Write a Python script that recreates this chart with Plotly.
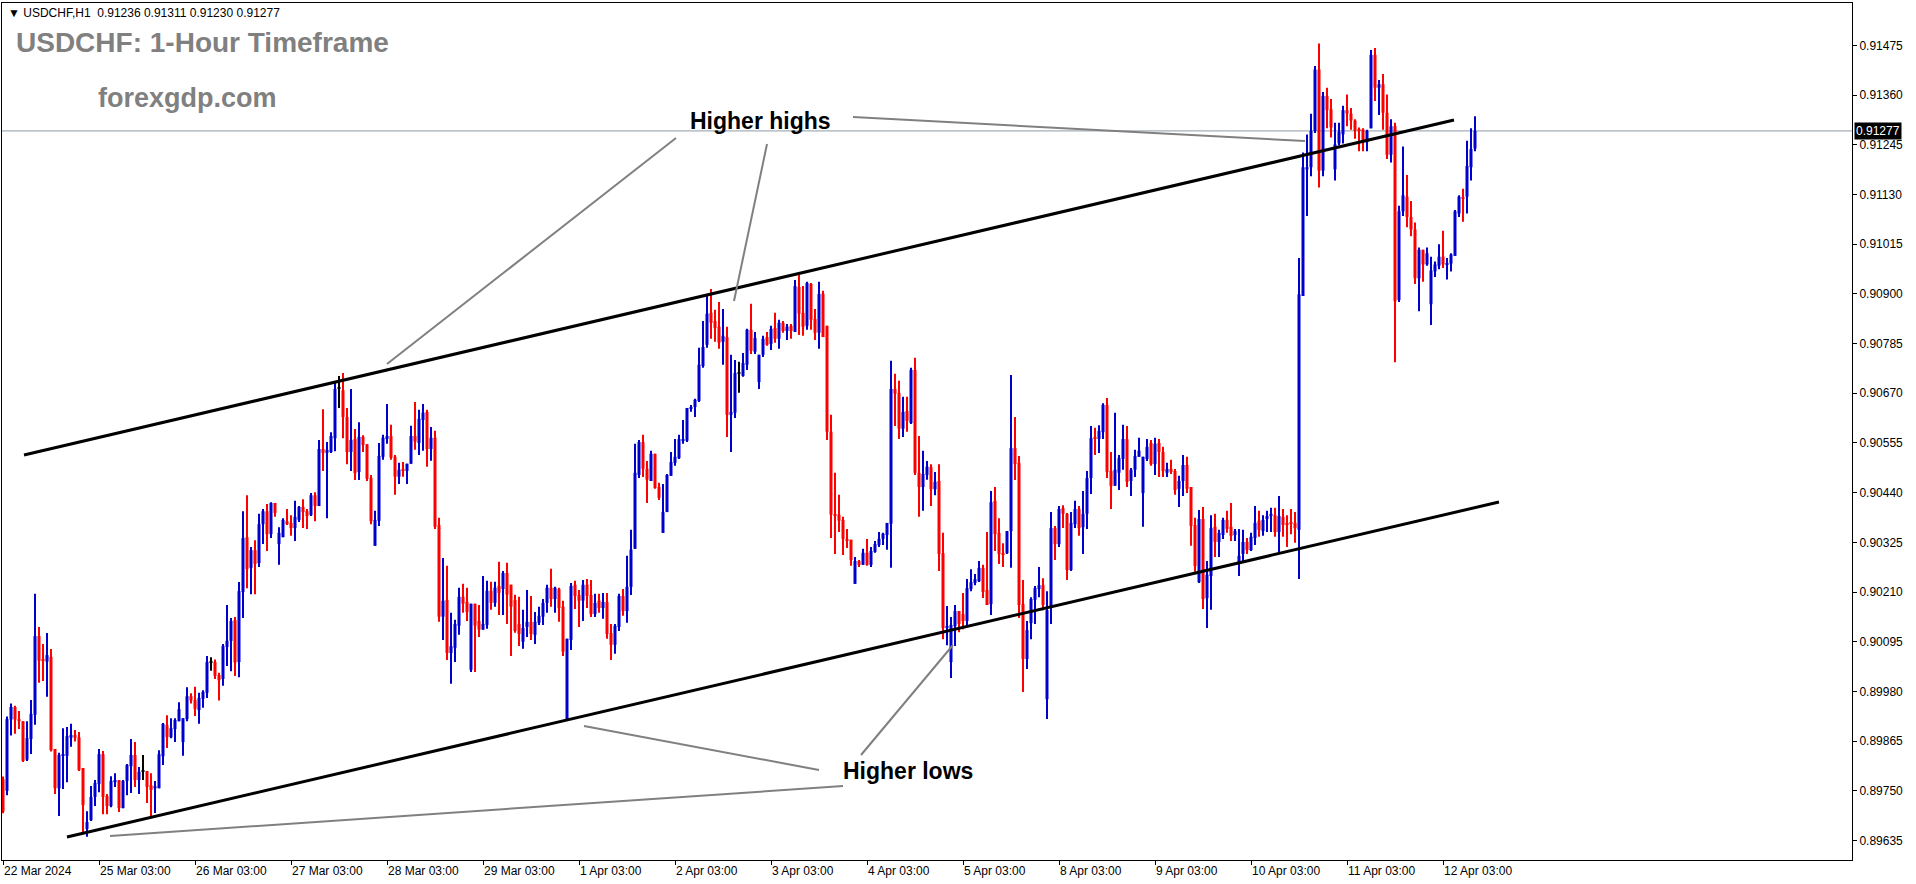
import plotly.graph_objects as go
from datetime import datetime, timedelta

# ---------------- data (USDCHF H1) ----------------
opens = [
0.89777,0.89750,0.89915,0.89944,0.89916,0.89911,0.89822,0.89870,0.89926,0.90108,
0.90055,0.90049,0.90060,0.89847,0.89756,0.89831,0.89831,0.89873,0.89879,0.89874,
0.89803,0.89662,0.89682,0.89736,0.89766,0.89835,0.89738,0.89715,0.89770,0.89775,
0.89710,0.89773,0.89807,0.89833,0.89775,0.89794,0.89796,0.89763,0.89756,0.89756,
0.89830,0.89902,0.89874,0.89893,0.89911,0.89863,0.89916,0.89969,0.89960,0.89937,
0.89963,0.89977,0.90048,0.90048,0.90018,0.90009,0.90083,0.90097,0.90145,0.90048,
0.90210,0.90337,0.90266,0.90307,0.90277,0.90367,0.90397,0.90344,0.90416,0.90321,
0.90337,0.90374,0.90370,0.90358,0.90377,0.90407,0.90397,0.90388,0.90434,0.90409,
0.90541,0.90532,0.90534,0.90566,0.90680,0.90677,0.90615,0.90534,0.90564,0.90488,
0.90569,0.90552,0.90474,0.90317,0.90375,0.90523,0.90564,0.90571,0.90523,0.90477,
0.90493,0.90490,0.90507,0.90571,0.90555,0.90608,0.90627,0.90541,0.90567,0.90365,
0.90153,0.90192,0.90069,0.90081,0.90132,0.90199,0.90187,0.90030,0.90183,0.90143,
0.90123,0.90134,0.90213,0.90185,0.90224,0.90217,0.90254,0.90227,0.90192,0.90136,
0.90095,0.90129,0.90141,0.90111,0.90139,0.90153,0.90185,0.90220,0.90194,0.90217,
0.90176,0.89916,0.90099,0.90227,0.90203,0.90190,0.90227,0.90203,0.90159,0.90190,
0.90173,0.90187,0.90115,0.90088,0.90129,0.90201,0.90166,0.90222,0.90310,0.90481,
0.90557,0.90495,0.90467,0.90530,0.90453,0.90347,0.90395,0.90479,0.90509,0.90520,
0.90560,0.90560,0.90634,0.90638,0.90652,0.90733,0.90782,0.90856,0.90837,0.90824,
0.90789,0.90800,0.90620,0.90625,0.90715,0.90710,0.90736,0.90817,0.90766,0.90696,
0.90759,0.90800,0.90784,0.90821,0.90796,0.90833,0.90814,0.90826,0.90812,0.90916,
0.90856,0.90826,0.90923,0.90842,0.90810,0.90900,0.90826,0.90581,0.90389,0.90389,
0.90377,0.90333,0.90331,0.90229,0.90282,0.90273,0.90301,0.90273,0.90303,0.90319,
0.90333,0.90342,0.90368,0.90680,0.90671,0.90588,0.90629,0.90601,0.90724,0.90486,
0.90453,0.90481,0.90499,0.90448,0.90467,0.90300,0.90127,0.90048,0.90131,0.90166,
0.90159,0.90143,0.90217,0.90231,0.90235,0.90266,0.90215,0.90182,0.90421,0.90347,
0.90300,0.90300,0.90351,0.90543,0.90509,0.90182,0.90055,0.90138,0.90192,0.90217,
0.90226,0.89962,0.90173,0.90358,0.90321,0.90404,0.90391,0.90261,0.90367,0.90402,
0.90360,0.90391,0.90474,0.90569,0.90564,0.90580,0.90643,0.90490,0.90456,0.90486,
0.90518,0.90564,0.90467,0.90493,0.90523,0.90439,0.90518,0.90555,0.90506,0.90555,
0.90534,0.90486,0.90495,0.90490,0.90449,0.90467,0.90504,0.90453,0.90365,0.90233,
0.90379,0.90196,0.90247,0.90361,0.90326,0.90342,0.90377,0.90361,0.90342,0.90275,
0.90298,0.90326,0.90307,0.90335,0.90375,0.90351,0.90379,0.90386,0.90388,0.90349,
0.90384,0.90370,0.90372,0.90370,0.90354,0.90895,0.91188,0.91193,0.91277,0.91419,
0.91185,0.91358,0.91327,0.91188,0.91248,0.91269,0.91325,0.91317,0.91301,0.91280,
0.91280,0.91251,0.91283,0.91453,0.91377,0.91385,0.91319,0.91222,0.91288,0.90886,
0.91091,0.91125,0.91078,0.91049,0.90936,0.91002,0.90968,0.90876,0.90952,0.90965,
0.90986,0.90968,0.90970,0.90988,0.91086,0.91122,0.91125,0.91193,0.91236]

highs = [
0.89783,0.89922,0.89952,0.89947,0.89935,0.89911,0.89911,0.89960,0.90206,0.90129,
0.90090,0.90115,0.90078,0.89847,0.89838,0.89895,0.89898,0.89905,0.89891,0.89886,
0.89803,0.89703,0.89761,0.89775,0.89847,0.89842,0.89743,0.89784,0.89791,0.89775,
0.89775,0.89812,0.89870,0.89863,0.89805,0.89833,0.89796,0.89791,0.89773,0.89844,
0.89907,0.89925,0.89918,0.89918,0.89955,0.89918,0.89990,0.89976,0.89991,0.89977,
0.89983,0.90062,0.90059,0.90054,0.90023,0.90090,0.90180,0.90150,0.90152,0.90233,
0.90397,0.90434,0.90314,0.90330,0.90391,0.90402,0.90414,0.90418,0.90416,0.90360,
0.90381,0.90402,0.90388,0.90421,0.90409,0.90425,0.90402,0.90439,0.90441,0.90562,
0.90633,0.90557,0.90580,0.90694,0.90710,0.90717,0.90636,0.90680,0.90587,0.90603,
0.90573,0.90552,0.90481,0.90398,0.90555,0.90574,0.90645,0.90597,0.90527,0.90509,
0.90511,0.90507,0.90595,0.90650,0.90632,0.90645,0.90632,0.90592,0.90583,0.90382,
0.90289,0.90271,0.90162,0.90146,0.90220,0.90229,0.90220,0.90183,0.90183,0.90180,
0.90247,0.90236,0.90234,0.90234,0.90280,0.90259,0.90278,0.90227,0.90204,0.90199,
0.90169,0.90215,0.90201,0.90164,0.90176,0.90194,0.90227,0.90264,0.90222,0.90220,
0.90190,0.90102,0.90231,0.90236,0.90215,0.90238,0.90240,0.90238,0.90206,0.90206,
0.90208,0.90208,0.90136,0.90136,0.90206,0.90217,0.90294,0.90354,0.90553,0.90562,
0.90574,0.90513,0.90537,0.90530,0.90463,0.90460,0.90483,0.90534,0.90564,0.90574,
0.90608,0.90636,0.90643,0.90657,0.90775,0.90837,0.90898,0.90911,0.90863,0.90881,
0.90865,0.90824,0.90759,0.90747,0.90743,0.90763,0.90819,0.90877,0.90812,0.90759,
0.90803,0.90812,0.90826,0.90856,0.90840,0.90837,0.90830,0.90830,0.90932,0.90946,
0.90918,0.90928,0.90925,0.90865,0.90928,0.90907,0.90826,0.90620,0.90486,0.90435,
0.90384,0.90356,0.90331,0.90291,0.90284,0.90310,0.90333,0.90314,0.90328,0.90349,
0.90347,0.90370,0.90745,0.90715,0.90699,0.90662,0.90662,0.90729,0.90752,0.90571,
0.90537,0.90513,0.90506,0.90488,0.90506,0.90347,0.90178,0.90152,0.90180,0.90166,
0.90208,0.90240,0.90263,0.90252,0.90282,0.90273,0.90349,0.90444,0.90453,0.90381,
0.90323,0.90351,0.90712,0.90615,0.90525,0.90238,0.90143,0.90198,0.90224,0.90268,
0.90242,0.90212,0.90395,0.90363,0.90409,0.90411,0.90393,0.90395,0.90421,0.90409,
0.90444,0.90490,0.90594,0.90590,0.90596,0.90647,0.90659,0.90534,0.90625,0.90527,
0.90597,0.90594,0.90497,0.90539,0.90567,0.90523,0.90564,0.90562,0.90567,0.90564,
0.90546,0.90509,0.90516,0.90495,0.90479,0.90527,0.90523,0.90453,0.90382,0.90400,
0.90407,0.90282,0.90388,0.90391,0.90354,0.90382,0.90398,0.90416,0.90356,0.90356,
0.90354,0.90335,0.90347,0.90409,0.90398,0.90388,0.90398,0.90405,0.90405,0.90432,
0.90402,0.90388,0.90402,0.90395,0.90983,0.91227,0.91269,0.91317,0.91427,0.91479,
0.91367,0.91377,0.91351,0.91296,0.91296,0.91335,0.91361,0.91330,0.91304,0.91285,
0.91283,0.91280,0.91464,0.91469,0.91395,0.91409,0.91361,0.91304,0.91296,0.91104,
0.91241,0.91175,0.91115,0.91065,0.91007,0.91002,0.91007,0.90986,0.90975,0.91015,
0.91046,0.90983,0.90994,0.91094,0.91128,0.91143,0.91254,0.91283,0.91311]

lows = [
0.89698,0.89740,0.89878,0.89882,0.89893,0.89817,0.89819,0.89835,0.89903,0.90000,
0.90004,0.89968,0.89841,0.89743,0.89692,0.89754,0.89770,0.89852,0.89864,0.89796,
0.89655,0.89644,0.89680,0.89715,0.89747,0.89696,0.89696,0.89712,0.89759,0.89701,
0.89710,0.89740,0.89745,0.89759,0.89743,0.89775,0.89722,0.89687,0.89699,0.89756,
0.89810,0.89849,0.89872,0.89863,0.89911,0.89831,0.89911,0.89952,0.89923,0.89905,
0.89942,0.89965,0.90028,0.90009,0.89959,0.89993,0.90039,0.90027,0.90016,0.90013,
0.90150,0.90219,0.90205,0.90205,0.90268,0.90321,0.90305,0.90335,0.90384,0.90273,
0.90337,0.90365,0.90340,0.90328,0.90372,0.90358,0.90356,0.90386,0.90374,0.90409,
0.90490,0.90381,0.90532,0.90536,0.90636,0.90566,0.90506,0.90490,0.90469,0.90469,
0.90534,0.90467,0.90367,0.90317,0.90363,0.90516,0.90553,0.90516,0.90435,0.90460,
0.90477,0.90460,0.90507,0.90539,0.90527,0.90537,0.90500,0.90514,0.90356,0.90141,
0.90099,0.90053,0.89998,0.90048,0.90111,0.90162,0.90143,0.90025,0.90025,0.90106,
0.90123,0.90125,0.90169,0.90176,0.90157,0.90157,0.90136,0.90062,0.90116,0.90085,
0.90079,0.90106,0.90099,0.90090,0.90134,0.90134,0.90162,0.90176,0.90162,0.90141,
0.90062,0.89914,0.90076,0.90171,0.90129,0.90143,0.90173,0.90152,0.90152,0.90162,
0.90148,0.90102,0.90053,0.90067,0.90120,0.90155,0.90139,0.90203,0.90310,0.90474,
0.90476,0.90416,0.90467,0.90449,0.90423,0.90347,0.90395,0.90479,0.90502,0.90518,
0.90553,0.90557,0.90627,0.90615,0.90650,0.90729,0.90775,0.90796,0.90789,0.90773,
0.90736,0.90569,0.90534,0.90613,0.90671,0.90708,0.90724,0.90761,0.90761,0.90680,
0.90754,0.90780,0.90770,0.90787,0.90773,0.90810,0.90793,0.90796,0.90812,0.90805,
0.90803,0.90817,0.90817,0.90793,0.90773,0.90800,0.90562,0.90335,0.90298,0.90349,
0.90296,0.90312,0.90271,0.90229,0.90268,0.90273,0.90271,0.90268,0.90301,0.90314,
0.90319,0.90308,0.90266,0.90594,0.90564,0.90569,0.90581,0.90599,0.90481,0.90384,
0.90398,0.90470,0.90409,0.90434,0.90259,0.90101,0.90087,0.90011,0.90085,0.90117,
0.90124,0.90129,0.90212,0.90226,0.90233,0.90196,0.90180,0.90157,0.90305,0.90275,
0.90268,0.90298,0.90266,0.90469,0.90150,0.89979,0.90032,0.90101,0.90136,0.90198,
0.90168,0.89916,0.90136,0.90284,0.90314,0.90358,0.90238,0.90259,0.90358,0.90340,
0.90298,0.90356,0.90437,0.90527,0.90532,0.90564,0.90474,0.90402,0.90456,0.90446,
0.90493,0.90453,0.90432,0.90476,0.90523,0.90361,0.90513,0.90502,0.90481,0.90476,
0.90476,0.90476,0.90483,0.90435,0.90407,0.90432,0.90439,0.90317,0.90257,0.90231,
0.90171,0.90127,0.90169,0.90291,0.90291,0.90333,0.90347,0.90328,0.90328,0.90247,
0.90277,0.90298,0.90305,0.90319,0.90338,0.90340,0.90349,0.90349,0.90338,0.90298,
0.90338,0.90314,0.90344,0.90324,0.90240,0.90895,0.91080,0.91172,0.91272,0.91146,
0.91172,0.91283,0.91262,0.91162,0.91243,0.91248,0.91288,0.91280,0.91259,0.91230,
0.91230,0.91230,0.91283,0.91346,0.91314,0.91280,0.91212,0.91204,0.90742,0.90881,
0.91080,0.91054,0.91033,0.90923,0.90860,0.90928,0.90965,0.90828,0.90939,0.90957,
0.90960,0.90933,0.90952,0.90988,0.91078,0.91067,0.91086,0.91162,0.91230]

closes = [
0.89702,0.89916,0.89944,0.89915,0.89911,0.89819,0.89872,0.89928,0.90108,0.90051,
0.90051,0.90064,0.89844,0.89756,0.89833,0.89835,0.89877,0.89879,0.89873,0.89798,
0.89717,0.89678,0.89736,0.89768,0.89835,0.89736,0.89715,0.89773,0.89775,0.89710,
0.89773,0.89810,0.89833,0.89775,0.89794,0.89794,0.89759,0.89752,0.89761,0.89835,
0.89905,0.89874,0.89895,0.89914,0.89939,0.89918,0.89969,0.89959,0.89940,0.89965,
0.89979,0.90048,0.90048,0.90016,0.90006,0.90085,0.90097,0.90143,0.90047,0.90212,
0.90335,0.90263,0.90307,0.90275,0.90367,0.90397,0.90344,0.90416,0.90393,0.90347,
0.90377,0.90367,0.90358,0.90384,0.90407,0.90395,0.90386,0.90434,0.90409,0.90541,
0.90532,0.90539,0.90571,0.90680,0.90680,0.90615,0.90534,0.90562,0.90485,0.90569,
0.90550,0.90472,0.90374,0.90377,0.90525,0.90567,0.90571,0.90521,0.90477,0.90493,
0.90491,0.90507,0.90571,0.90558,0.90611,0.90625,0.90541,0.90567,0.90361,0.90153,
0.90190,0.90069,0.90085,0.90136,0.90199,0.90183,0.90164,0.90183,0.90132,0.90123,
0.90136,0.90213,0.90185,0.90220,0.90208,0.90254,0.90204,0.90176,0.90120,0.90113,
0.90127,0.90141,0.90113,0.90141,0.90155,0.90185,0.90220,0.90194,0.90220,0.90173,
0.90072,0.90102,0.90224,0.90201,0.90190,0.90227,0.90201,0.90159,0.90185,0.90173,
0.90187,0.90113,0.90088,0.90132,0.90201,0.90166,0.90222,0.90308,0.90486,0.90557,
0.90495,0.90470,0.90530,0.90451,0.90428,0.90395,0.90481,0.90511,0.90523,0.90564,
0.90564,0.90636,0.90636,0.90655,0.90736,0.90777,0.90854,0.90833,0.90821,0.90787,
0.90803,0.90620,0.90627,0.90717,0.90715,0.90740,0.90817,0.90768,0.90798,0.90759,
0.90796,0.90782,0.90819,0.90796,0.90833,0.90814,0.90824,0.90814,0.90918,0.90854,
0.90824,0.90925,0.90840,0.90810,0.90900,0.90800,0.90581,0.90389,0.90386,0.90375,
0.90333,0.90328,0.90284,0.90282,0.90273,0.90301,0.90273,0.90305,0.90321,0.90333,
0.90345,0.90370,0.90680,0.90669,0.90588,0.90627,0.90606,0.90724,0.90486,0.90453,
0.90483,0.90500,0.90448,0.90465,0.90298,0.90127,0.90131,0.90134,0.90166,0.90136,
0.90143,0.90219,0.90233,0.90240,0.90266,0.90210,0.90180,0.90418,0.90344,0.90298,
0.90298,0.90351,0.90543,0.90506,0.90180,0.90055,0.90122,0.90194,0.90219,0.90226,
0.90180,0.90168,0.90358,0.90321,0.90402,0.90391,0.90261,0.90370,0.90402,0.90358,
0.90391,0.90474,0.90566,0.90564,0.90583,0.90643,0.90488,0.90455,0.90493,0.90520,
0.90564,0.90465,0.90493,0.90525,0.90537,0.90523,0.90546,0.90506,0.90553,0.90534,
0.90490,0.90495,0.90488,0.90446,0.90467,0.90504,0.90449,0.90363,0.90270,0.90379,
0.90194,0.90250,0.90358,0.90326,0.90347,0.90377,0.90356,0.90340,0.90351,0.90294,
0.90326,0.90307,0.90338,0.90370,0.90354,0.90377,0.90386,0.90391,0.90349,0.90386,
0.90365,0.90365,0.90368,0.90358,0.90899,0.91193,0.91193,0.91277,0.91419,0.91185,
0.91358,0.91325,0.91285,0.91246,0.91275,0.91325,0.91317,0.91301,0.91277,0.91277,
0.91251,0.91277,0.91453,0.91377,0.91385,0.91319,0.91222,0.91288,0.90883,0.91091,
0.91128,0.91078,0.91049,0.90936,0.91002,0.90968,0.90994,0.90954,0.90968,0.90986,
0.90968,0.90970,0.90991,0.91091,0.91125,0.91120,0.91196,0.91235,0.91277]

x_tick_labels = ["22 Mar 2024", "25 Mar 03:00", "26 Mar 03:00", "27 Mar 03:00",
                 "28 Mar 03:00", "29 Mar 03:00", "1 Apr 03:00", "2 Apr 03:00",
                 "3 Apr 03:00", "4 Apr 03:00", "5 Apr 03:00", "8 Apr 03:00",
                 "9 Apr 03:00", "10 Apr 03:00", "11 Apr 03:00", "12 Apr 03:00"]
x_tick_times = ["2024-03-22 03:00", "2024-03-25 03:00", "2024-03-26 03:00", "2024-03-27 03:00",
                "2024-03-28 03:00", "2024-03-29 03:00", "2024-04-01 03:00", "2024-04-02 03:00",
                "2024-04-03 03:00", "2024-04-04 03:00", "2024-04-05 03:00", "2024-04-08 03:00",
                "2024-04-09 03:00", "2024-04-10 03:00", "2024-04-11 03:00", "2024-04-12 03:00"]
y_tick_values = [0.89635, 0.89750, 0.89865, 0.89980, 0.90095, 0.90210, 0.90325, 0.90440,
                 0.90555, 0.90670, 0.90785, 0.90900, 0.91015, 0.91130, 0.91245, 0.91360, 0.91475]
last_price = 0.91277

# ---------------- bar time axis (trading hours only) ----------------
times = []
t = datetime(2024, 3, 22, 3)
end = datetime(2024, 4, 12, 11)
while t <= end:
    if t.weekday() < 5:
        times.append(t)
    t += timedelta(hours=1)
idx = list(range(len(times)))
time_index = {tt.strftime("%Y-%m-%d %H:%M"): i for i, tt in enumerate(times)}
tickvals = [time_index[s] for s in x_tick_times]

BLUE = "#0000CD"
RED = "#FF0000"
colors = []
for o, c in zip(opens, closes):
    colors.append(BLUE if c > o else (RED if c < o else "#000000"))

min_body = 0.000025
body_base = [min(o, c) for o, c in zip(opens, closes)]
body_h = [max(abs(c - o), min_body) for o, c in zip(opens, closes)]
wick_base = [min(l, o, c) for l, o, c in zip(lows, opens, closes)]
wick_h = [max(h, o, c) - b for h, o, c, b in zip(highs, opens, closes, wick_base)]

fig = go.Figure()
fig.add_trace(go.Bar(x=idx, y=wick_h, base=wick_base, width=0.25,
                     marker=dict(color=colors, line=dict(width=0)), hoverinfo="skip"))
fig.add_trace(go.Bar(x=idx, y=body_h, base=body_base, width=0.75,
                     marker=dict(color=colors, line=dict(width=0)), hoverinfo="skip"))

# plot area geometry (pixels)
W, H = 1916, 884
L_, R_, T_, B_ = 2, 1852, 3, 860
x_lo, x_hi = -0.25, 462.25
y_lo, y_hi = 0.89590, 0.91573

def px_to_data(px, py):
    xv = x_lo + (px - L_) / (R_ - L_) * (x_hi - x_lo)
    yv = y_hi - (py - T_) / (B_ - T_) * (y_hi - y_lo)
    return xv, yv

shapes = []
# price line
shapes.append(dict(type="line", xref="paper", x0=0, x1=1, yref="y", y0=last_price, y1=last_price,
                   line=dict(color="#8C9AA8", width=1), layer="below"))
# channel trend lines (drawn by hand on the chart)
for (p0, p1) in [((24, 455), (1454, 120)), ((67, 837), (1499, 502))]:
    x0, y0 = px_to_data(*p0); x1, y1 = px_to_data(*p1)
    shapes.append(dict(type="line", x0=x0, y0=y0, x1=x1, y1=y1, xref="x", yref="y",
                       line=dict(color="#000000", width=3)))
# grey pointer lines
for (p0, p1) in [((676, 138), (387, 364)), ((767, 144), (734, 301)), ((853, 117), (1305, 141)),
                 ((584, 726), (819, 770)), ((861, 755), (953, 645)), ((110, 836), (843, 786))]:
    x0, y0 = px_to_data(*p0); x1, y1 = px_to_data(*p1)
    shapes.append(dict(type="line", x0=x0, y0=y0, x1=x1, y1=y1, xref="x", yref="y",
                       line=dict(color="#808080", width=2)))

def pxp(px, py):
    return (px - L_) / (R_ - L_), (B_ - py) / (B_ - T_)

annotations = []
ax, ay = pxp(6, 13)
annotations.append(dict(xref="paper", yref="paper", x=ax, y=ay, xanchor="left", yanchor="middle",
                        text="▼ USDCHF,H1\u00a0\u00a00.91236 0.91311 0.91230 0.91277", showarrow=False,
                        font=dict(family="Liberation Sans", size=12, color="#000000")))
ax, ay = pxp(14, 43)
annotations.append(dict(xref="paper", yref="paper", x=ax, y=ay, xanchor="left", yanchor="middle",
                        text="<b>USDCHF: 1-Hour Timeframe</b>", showarrow=False,
                        font=dict(family="Liberation Sans", size=28, color="#808080")))
ax, ay = pxp(96, 98)
annotations.append(dict(xref="paper", yref="paper", x=ax, y=ay, xanchor="left", yanchor="middle",
                        text="<b>forexgdp.com</b>", showarrow=False,
                        font=dict(family="Liberation Sans", size=27, color="#808080")))
ax, ay = pxp(760, 121)
annotations.append(dict(xref="paper", yref="paper", x=ax, y=ay, xanchor="center", yanchor="middle",
                        text="<b>Higher highs</b>", showarrow=False,
                        font=dict(family="Liberation Sans", size=23, color="#000000")))
ax, ay = pxp(908, 771)
annotations.append(dict(xref="paper", yref="paper", x=ax, y=ay, xanchor="center", yanchor="middle",
                        text="<b>Higher lows</b>", showarrow=False,
                        font=dict(family="Liberation Sans", size=23, color="#000000")))
# price tag on the axis
annotations.append(dict(xref="paper", yref="y", x=1, y=last_price, xanchor="left", yanchor="middle",
                        xshift=2, text="0.91277", showarrow=False, bgcolor="#000000", borderpad=1,
                        font=dict(family="Liberation Sans", size=12, color="#FFFFFF")))

fig.update_layout(
    width=W, height=H,
    margin=dict(l=L_, r=W - R_, t=T_, b=H - B_, pad=0),
    paper_bgcolor="#FFFFFF", plot_bgcolor="#FFFFFF",
    barmode="overlay", showlegend=False, hovermode=False,
    shapes=shapes, annotations=annotations,
    xaxis=dict(range=[x_lo, x_hi], tickmode="array", tickvals=tickvals, ticktext=x_tick_labels,
               ticks="outside", ticklen=4, tickcolor="#000000", ticklabelposition="outside right",
               showline=True, mirror=True, linecolor="#000000", linewidth=1,
               showgrid=False, zeroline=False,
               tickfont=dict(family="Liberation Sans", size=12, color="#000000")),
    yaxis=dict(range=[y_lo, y_hi], side="right", tickmode="array", tickvals=y_tick_values,
               ticktext=[f"{v:.5f}" for v in y_tick_values],
               ticks="outside", ticklen=4, tickcolor="#000000",
               showline=True, mirror=True, linecolor="#000000", linewidth=1,
               showgrid=False, zeroline=False,
               tickfont=dict(family="Liberation Sans", size=12, color="#000000")),
)

fig.write_html("out.html", config={"displayModeBar": False},
               post_script="document.body.style.margin='0';document.body.style.overflow='hidden';")
